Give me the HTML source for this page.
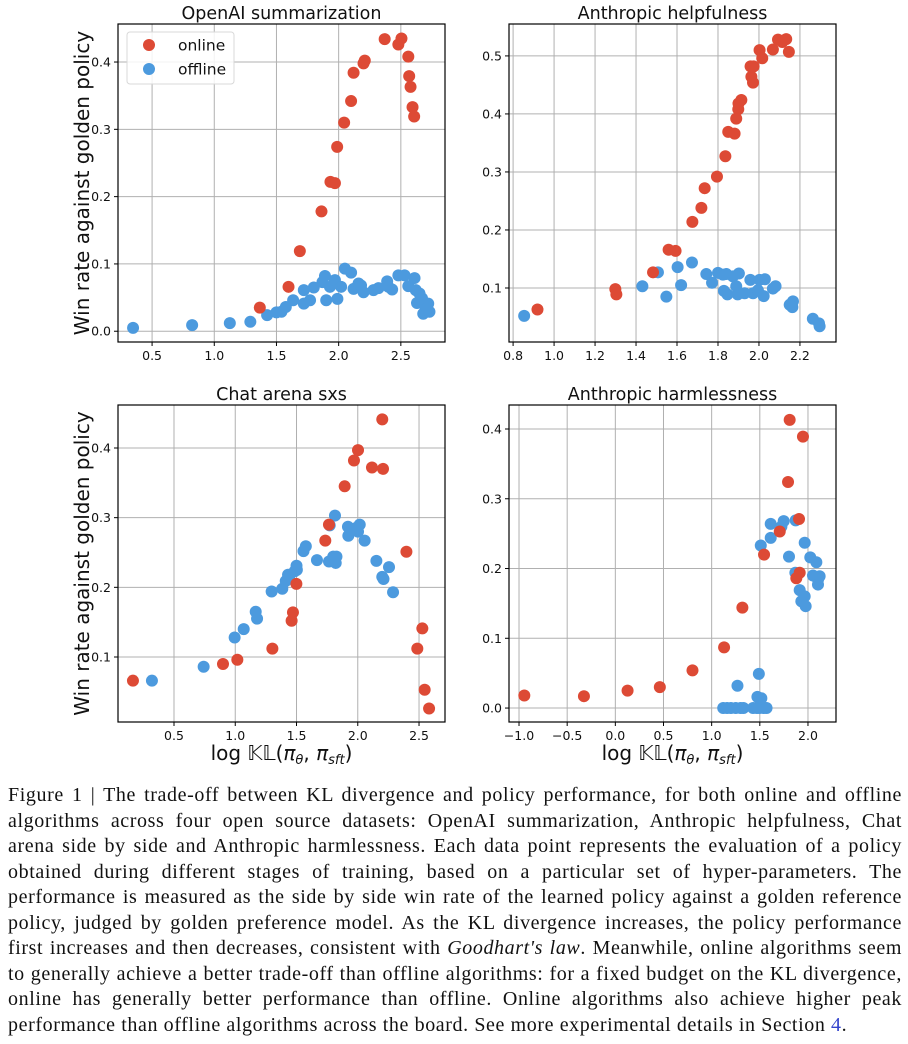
<!DOCTYPE html>
<html><head><meta charset="utf-8"><style>
body{margin:0;background:#fff;width:908px;height:1044px;overflow:hidden;position:relative;font-family:"Liberation Sans","DejaVu Sans",sans-serif}
#cap{position:absolute;left:8px;top:783px;width:894px;font-family:"Liberation Serif","DejaVu Serif",serif;font-size:20px;letter-spacing:0.6px;color:#111;line-height:25.5px}
#cap div{white-space:nowrap;text-align:justify;text-align-last:justify}
#cap div.last{text-align-last:left}
</style></head><body>
<svg id="fig" width="908" height="780" style="position:absolute;left:0;top:0" font-family="DejaVu Sans, Liberation Sans, sans-serif"></svg>
<div id="cap">
<div>Figure 1 | The trade-off between KL divergence and policy performance, for both online and offline</div>
<div>algorithms across four open source datasets: OpenAI summarization, Anthropic helpfulness, Chat</div>
<div>arena side by side and Anthropic harmlessness. Each data point represents the evaluation of a policy</div>
<div>obtained during different stages of training, based on a particular set of hyper-parameters. The</div>
<div>performance is measured as the side by side win rate of the learned policy against a golden reference</div>
<div>policy, judged by golden preference model. As the KL divergence increases, the policy performance</div>
<div>first increases and then decreases, consistent with <i>Goodhart's law</i>. Meanwhile, online algorithms seem</div>
<div>to generally achieve a better trade-off than offline algorithms: for a fixed budget on the KL divergence,</div>
<div>online has generally better performance than offline. Online algorithms also achieve higher peak</div>
<div class="last">performance than offline algorithms across the board. See more experimental details in Section <span style="color:#3344cc">4</span>.</div>
</div>
<script>
// Panel 1: OpenAI summarization
const p1OnX=[1.366,1.597,1.688,1.862,1.934,1.97,1.988,2.044,2.1,2.12,2.2,2.21,2.37,2.48,2.505,2.56,2.567,2.578,2.594,2.607];
const p1OnY=[0.035,0.066,0.119,0.178,0.222,0.22,0.274,0.310,0.342,0.384,0.398,0.402,0.434,0.426,0.435,0.408,0.379,0.363,0.333,0.319];
const p1OffX=[0.347,0.822,1.125,1.29,1.425,1.5,1.54,1.575,1.634,1.72,1.72,1.77,1.8,1.87,1.89,1.9,1.93,1.97,1.99,2.02,2.05,2.1,2.12,2.16,2.18,2.2,2.28,2.32,2.39,2.4,2.43,2.48,2.53,2.56,2.61,2.62,2.65,2.63,2.67,2.69,2.68,2.72,2.73,2.71];
const p1OffY=[0.005,0.009,0.012,0.014,0.024,0.028,0.029,0.036,0.046,0.061,0.041,0.046,0.065,0.073,0.082,0.046,0.066,0.076,0.048,0.066,0.093,0.087,0.063,0.071,0.068,0.058,0.061,0.064,0.074,0.066,0.062,0.083,0.083,0.067,0.079,0.061,0.056,0.042,0.049,0.039,0.026,0.041,0.029,0.034];
const p1XTicks=[0.5,1.0,1.5,2.0,2.5];
const p1YTicks=[0.0,0.1,0.2,0.3,0.4];
// Panel 2: Anthropic helpfulness
const p2OnX=[0.919,1.299,1.304,1.483,1.559,1.593,1.675,1.719,1.735,1.795,1.836,1.85,1.881,1.889,1.899,1.914,1.90,1.959,1.974,1.963,1.971,2.003,2.016,2.068,2.093,2.114,2.133,2.146];
const p2OnY=[0.063,0.098,0.089,0.127,0.166,0.164,0.214,0.238,0.272,0.292,0.327,0.369,0.366,0.392,0.408,0.424,0.418,0.482,0.482,0.464,0.454,0.510,0.496,0.511,0.528,0.524,0.529,0.507];
const p2OffX=[0.854,1.431,1.507,1.548,1.603,1.62,1.673,1.743,1.771,1.8,1.824,1.841,1.829,1.846,1.873,1.902,1.889,1.896,1.93,1.958,1.971,1.995,2.003,2.023,2.029,2.068,2.081,2.15,2.166,2.163,2.263,2.293,2.296];
const p2OffY=[0.052,0.103,0.127,0.085,0.136,0.105,0.144,0.124,0.109,0.126,0.123,0.124,0.095,0.089,0.12,0.125,0.103,0.089,0.091,0.114,0.091,0.096,0.114,0.086,0.115,0.099,0.103,0.071,0.077,0.067,0.047,0.039,0.034];
const p2XTicks=[0.8,1.0,1.2,1.4,1.6,1.8,2.0,2.2];
const p2YTicks=[0.1,0.2,0.3,0.4,0.5];
// Panel 3: Chat arena sxs
const p3OnX=[0.165,0.9,1.017,1.303,1.46,1.471,1.499,1.735,1.765,1.893,1.969,2.002,2.116,2.2,2.206,2.397,2.486,2.527,2.546,2.582];
const p3OnY=[0.066,0.09,0.096,0.112,0.152,0.164,0.205,0.267,0.29,0.345,0.382,0.397,0.372,0.441,0.370,0.251,0.112,0.141,0.053,0.026];
const p3OffX=[0.32,0.742,0.995,1.069,1.167,1.178,1.297,1.384,1.412,1.431,1.44,1.485,1.5,1.503,1.557,1.576,1.667,1.771,1.765,1.8,1.826,1.82,1.814,1.923,1.92,1.983,2.016,2.002,2.056,2.152,2.2,2.21,2.255,2.288];
const p3OffY=[0.066,0.086,0.128,0.140,0.165,0.155,0.194,0.198,0.209,0.218,0.215,0.223,0.231,0.225,0.252,0.259,0.239,0.289,0.237,0.244,0.244,0.235,0.303,0.274,0.287,0.285,0.290,0.280,0.267,0.238,0.215,0.212,0.229,0.193];
const p3XTicks=[0.5,1.0,1.5,2.0,2.5];
const p3YTicks=[0.1,0.2,0.3,0.4];
// Panel 4: Anthropic harmlessness
const p4OnX=[-0.945,-0.326,0.127,0.462,0.801,1.129,1.319,1.544,1.707,1.793,1.81,1.948,1.907,1.879,1.914];
const p4OnY=[0.018,0.017,0.025,0.030,0.054,0.087,0.144,0.220,0.253,0.324,0.413,0.389,0.271,0.186,0.194];
const p4OffX=[1.12,1.16,1.2,1.25,1.3,1.33,1.43,1.47,1.5,1.54,1.57,1.268,1.49,1.475,1.516,1.51,1.613,1.613,1.724,1.748,1.803,1.869,1.872,1.914,1.931,1.966,1.976,1.966,2.024,2.052,2.087,2.104,2.121,2.104];
const p4OffY=[0,0,0,0,0,0,0,0,0,0,0,0.032,0.049,0.016,0.014,0.233,0.264,0.244,0.260,0.268,0.217,0.194,0.269,0.169,0.153,0.160,0.146,0.237,0.216,0.190,0.209,0.184,0.189,0.177];
const p4XTicks=[-1.0,-0.5,0.0,0.5,1.0,1.5,2.0];
const p4YTicks=[0.0,0.1,0.2,0.3,0.4];

const RED='#dd4a35', BLUE='#4c9ade';
const svg=document.getElementById('fig');
const NS='http://www.w3.org/2000/svg';
function mk(tag,attrs,parent){const e=document.createElementNS(NS,tag);for(const k in attrs)e.setAttribute(k,attrs[k]);(parent||svg).appendChild(e);return e;}
function fmt(v){return (v<0?'\u2212':'')+Math.abs(v).toFixed(1);}
function panel(o){
  const g=mk('g',{});
  
  
  const sx=v=>o.x0+(v-o.dx[0])/(o.dx[1]-o.dx[0])*(o.x1-o.x0);
  const sy=v=>o.y1-(v-o.dy[0])/(o.dy[1]-o.dy[0])*(o.y1-o.y0);
  o.xt.forEach(t=>{const x=sx(t);
    mk('line',{x1:x,x2:x,y1:o.y0,y2:o.y1,stroke:'#b0b0b0','stroke-width':1},g);
    mk('line',{x1:x,x2:x,y1:o.y1,y2:o.y1+4,stroke:'#000','stroke-width':1},g);
    const tx=mk('text',{x:x,y:o.y1+18,'text-anchor':'middle','font-size':12.5,fill:'#111'},g);tx.textContent=fmt(t);
    
    });
  o.yt.forEach(t=>{const y=sy(t);
    mk('line',{x1:o.x0,x2:o.x1,y1:y,y2:y,stroke:'#b0b0b0','stroke-width':1},g);
    mk('line',{x1:o.x0-4,x2:o.x0,y1:y,y2:y,stroke:'#000','stroke-width':1},g);
    const tx=mk('text',{x:o.x0-7,y:y+4.5,'text-anchor':'end','font-size':12.5,fill:'#111'},g);tx.textContent=fmt(t);
    
    });
  o.offX.forEach((v,i)=>{const c=mk('circle',{cx:sx(v),cy:sy(o.offY[i]),r:6,fill:BLUE},g);
    
    });
  o.onX.forEach((v,i)=>{const c=mk('circle',{cx:sx(v),cy:sy(o.onY[i]),r:6,fill:RED},g);
    
    });
  mk('rect',{x:o.x0,y:o.y0,width:o.x1-o.x0,height:o.y1-o.y0,fill:'none',stroke:'#000','stroke-width':1.2},g);
  const ti=mk('text',{x:(o.x0+o.x1)/2,y:o.y0-5,'text-anchor':'middle','font-size':17.5,fill:'#111'},g);ti.textContent=o.title;
  
  
  if(o.ylab){const yl=mk('text',{x:0,y:0,'text-anchor':'middle','font-size':20,fill:'#111',transform:`translate(89,${(o.y0+o.y1)/2}) rotate(-90)`},g);yl.textContent='Win rate against golden policy';
    
    }
  if(o.xlab){const xl=mk('text',{x:(o.x0+o.x1)/2,y:o.y1+38,'text-anchor':'middle','font-size':20,fill:'#111'},g);
    xl.innerHTML='log \u{1D542}\u{1D543}(<tspan font-style="italic">\u03C0</tspan><tspan font-size="13" dy="4" font-style="italic">\u03B8</tspan><tspan dy="-4">, </tspan><tspan font-style="italic">\u03C0</tspan><tspan font-size="13" dy="4" font-style="italic">sft</tspan><tspan dy="-4">)</tspan>';
    
    }
  return g;
}
panel({name:'openai-summarization-chart',title:'OpenAI summarization',x0:118,x1:445,y0:24,y1:342,dx:[0.226,2.855],dy:[-0.016,0.4565],xt:p1XTicks,yt:p1YTicks,onX:p1OnX,onY:p1OnY,offX:p1OffX,offY:p1OffY,ylab:true});
panel({name:'anthropic-helpfulness-chart',title:'Anthropic helpfulness',x0:509,x1:836,y0:24,y1:342,dx:[0.780,2.376],dy:[0.0069,0.555],xt:p2XTicks,yt:p2YTicks,onX:p2OnX,onY:p2OnY,offX:p2OffX,offY:p2OffY});
panel({name:'chat-arena-chart',title:'Chat arena sxs',x0:118,x1:445,y0:405,y1:722,dx:[0.043,2.712],dy:[0.0067,0.4617],xt:p3XTicks,yt:p3YTicks,onX:p3OnX,onY:p3OnY,offX:p3OffX,offY:p3OffY,ylab:true,xlab:true});
panel({name:'anthropic-harmlessness-chart',title:'Anthropic harmlessness',x0:509,x1:836,y0:405,y1:722,dx:[-1.104,2.291],dy:[-0.020,0.4344],xt:p4XTicks,yt:p4YTicks,onX:p4OnX,onY:p4OnY,offX:p4OffX,offY:p4OffY,xlab:true});
// legend
const lg=mk('g',{});


mk('rect',{x:127,y:32,width:107,height:52,rx:3,fill:'#fff','fill-opacity':0.85,stroke:'#d8d8d8'},lg);
[['online',RED,45],['offline',BLUE,69]].forEach(([t,c,y])=>{
  const e=mk('g',{},lg);
  
  
  mk('circle',{cx:149,cy:y,r:6,fill:c},e);
  const tx=mk('text',{x:178,y:y+5.5,'font-size':15.5,fill:'#111'},e);tx.textContent=t;
});
</script>
</body></html>
